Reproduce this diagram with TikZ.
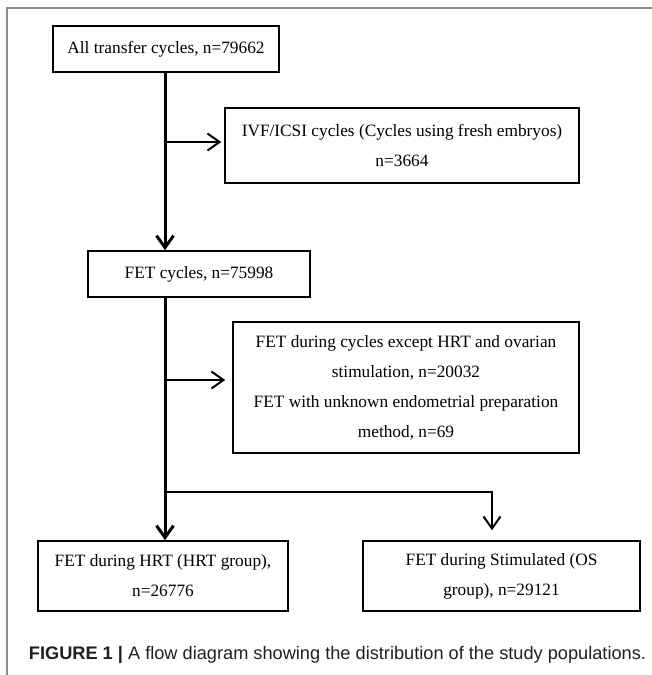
\documentclass[tikz,border=0pt]{standalone}
\usepackage{fontspec}
\setmainfont{Liberation Serif}
\newfontfamily\capfont{Liberation Sans}
\usepackage{tikz}
\usetikzlibrary{arrows.meta,positioning,calc}
\definecolor{frameGray}{RGB}{140,140,140}
\definecolor{capInk}{RGB}{35,31,32}

\begin{document}
\begin{tikzpicture}[
    x=1pt, y=-1pt,
    every node/.style={font=\fontsize{17.3}{30}\selectfont},
    box/.style={draw=black, line width=1.6pt, align=center, inner sep=0pt},
    trunk/.style={draw=black, line width=3pt},
    branch/.style={draw=black, line width=2pt},
    tip/.style={-{Straight Barb[length=12pt,width=17pt]}}
]
\useasboundingbox (0,0) rectangle (652,675);
\draw[frameGray, line width=1.6pt] (7,675) -- (7,8) -- (652,8);

\node[box, minimum width=226pt, minimum height=46pt] (all) at (166,49) {All transfer cycles, n=79662};
\node[box, minimum width=354pt, minimum height=75pt] (ivf) at (402,145.5) {IVF/ICSI cycles (Cycles using fresh embryos)\\ n=3664};
\node[box, minimum width=222pt, minimum height=46pt] (fet) at (199,274) {FET cycles, n=75998};
\node[box, minimum width=346pt, minimum height=131pt] (excl) at (406,387.5) {FET during cycles except HRT and ovarian\\ stimulation, n=20032\\ FET with unknown endometrial preparation\\ method, n=69};
\node[box, minimum width=250pt, minimum height=70pt] (hrt) at (163,576) {FET during HRT (HRT group),\\ n=26776};
\node[box, minimum width=277pt, minimum height=70pt] (os) at (501.5,576) {FET during Stimulated (OS\\ group), n=29121};
\node[font=\capfont\fontsize{18.2}{22}\selectfont, text=capInk] (caption) at (337.5,655) {{\bfseries FIGURE 1 |} A flow diagram showing the distribution of the study populations.};

% split points on the trunk
\coordinate (split1) at (165,142);
\coordinate (split2) at (165,380);
\coordinate (split3) at (165,492);
\coordinate (osTurn) at (492,492);

\draw[trunk, tip] (split1 |- all.south) -- (split1 |- fet.north);
\draw[trunk, tip] (split1 |- fet.south) -- (split1 |- hrt.north);
\draw[branch, tip, shorten >=3pt] (split1) -- (ivf.west |- split1);
\draw[branch, tip, shorten >=7pt] (split2) -- (excl.west |- split2);
\draw[branch, tip, shorten >=10pt] (split3) -- (osTurn) -- (osTurn |- os.north);
\end{tikzpicture}
\end{document}
